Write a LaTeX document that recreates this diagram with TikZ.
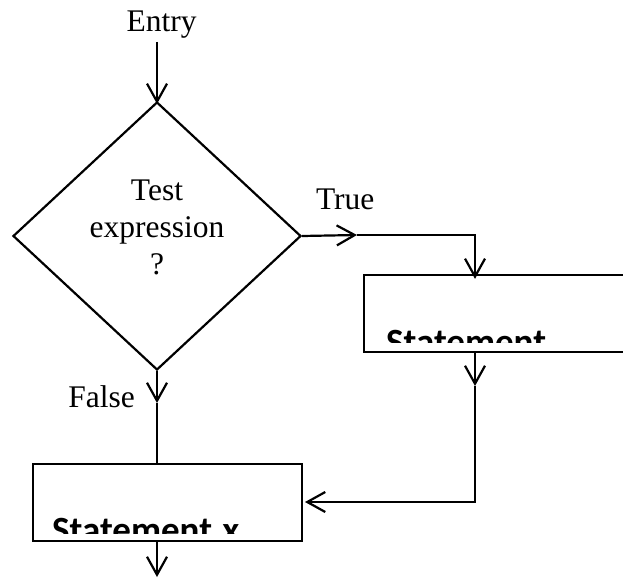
\documentclass[tikz,border=0pt]{standalone}
\usepackage{fontspec}
\setmainfont{Liberation Serif}
\newfontfamily\boxfont{Carlito}
\usetikzlibrary{shapes.geometric,arrows.meta}
\begin{document}
\begin{tikzpicture}[x=1pt,y=-1pt,
  line width=2.2pt,
  lbl/.style={inner sep=0pt,font=\fontsize{31.5}{37}\selectfont},
  decision/.style={draw,diamond,inner sep=0pt,minimum width=288pt,minimum height=268pt},
  stepbox/.style={draw,rectangle,inner sep=0pt,minimum height=77pt},
  stmt/.style={inner sep=0pt,font=\boxfont\bfseries\fontsize{37}{44}\selectfont},
  arr/.style={-{Straight Barb[length=18pt,width=20pt,line width=2.2pt]}}]
\clip (0,0) rectangle (623,578);
\fill[white] (0,0) rectangle (623,578);

% labels
\node[lbl,anchor=base] (entry) at (161.5,32) {Entry};
\node[lbl,anchor=base west] (true) at (315,209) {True};
\node[lbl,anchor=base east] (false) at (136,407) {False};

% decision
\node[decision] (test) at (157,236) {};
\node[lbl,align=center] (testtext) at (157,227) {Test\\expression\\?};

% process boxes
\node[stepbox,minimum width=268pt] (box1) at (498,313.5) {};
\node[stepbox,minimum width=269pt] (box2) at (167.5,502.5) {};
\begin{scope}
  \clip (box1.north west) rectangle ([yshift=11pt]box1.south east);
  \node[stmt,anchor=base west] (s1) at (385,354) {Statement};
\end{scope}
\begin{scope}
  \clip (box2.north west) rectangle ([yshift=9pt]box2.south east);
  \node[stmt,anchor=base west] (s2) at (51,542) {Statement\hspace{2pt} x};
\end{scope}

% helper points on the connectors
\coordinate (entrytop) at (157,42);
\coordinate (truetip) at (357,235);
\coordinate (tcorner) at (475,235);
\coordinate (ftip) at (157,403);
\coordinate (rtip) at (475,386);
\coordinate (rcorner) at (475,502);
\coordinate (ltip) at (305,502);
\coordinate (outtip) at (157,577);

% connectors
\draw[arr] (entrytop) -- ([yshift=-3pt]test.north);
\draw[arr] (test.east) -- (truetip);
\draw[arr] (truetip) -- (tcorner) -- ([yshift=-5pt]tcorner |- box1.north);
\draw[arr] (test.south) -- (ftip);
\draw (ftip) -- (ftip |- box2.north);
\draw[arr] (tcorner |- box1.south) -- (rtip);
\draw[arr] (rtip) -- (rcorner) -- (ltip);
\draw[arr] (outtip |- box2.south) -- (outtip);
\end{tikzpicture}
\end{document}
